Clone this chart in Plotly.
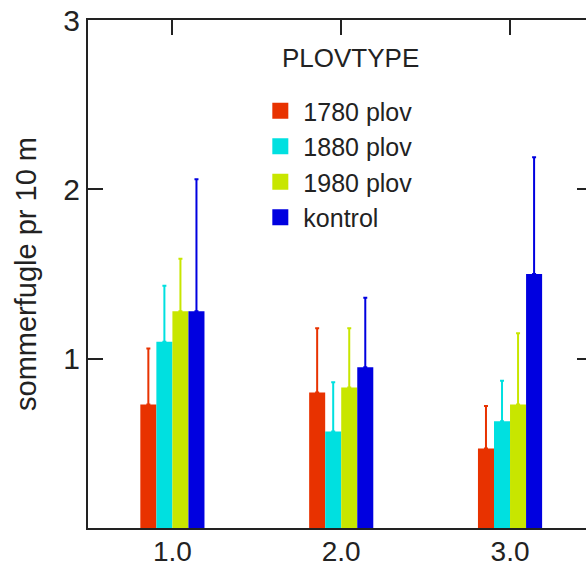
import plotly.graph_objects as go

categories = [1.0, 2.0, 3.0]
tick_labels = ["1.0", "2.0", "3.0"]
series_names = ["1780 plov", "1880 plov", "1980 plov", "kontrol"]
colors = ["#E83200", "#00E0E0", "#C8E600", "#0000E0"]
legend_title = "PLOVTYPE"

plov1780 = [0.73, 0.80, 0.47]
plov1880 = [1.10, 0.57, 0.63]
plov1980 = [1.28, 0.83, 0.73]
kontrol = [1.28, 0.95, 1.50]

err1780 = [0.33, 0.38, 0.25]
err1880 = [0.33, 0.29, 0.24]
err1980 = [0.31, 0.35, 0.42]
errkontrol = [0.78, 0.41, 0.69]

values = [plov1780, plov1880, plov1980, kontrol]
errors = [err1780, err1880, err1980, errkontrol]

font_family = "Liberation Sans, Arial, sans-serif"
axis_color = "#222222"

fig = go.Figure()
for name, vals, errs, col in zip(series_names, values, errors, colors):
    fig.add_trace(go.Bar(
        x=categories, y=vals, name=name, marker=dict(color=col, line=dict(width=0)),
        showlegend=False,
        error_y=dict(type="data", symmetric=False, array=errs,
                     arrayminus=[0] * len(errs), color=col, thickness=2, width=2),
    ))
# legend entries with larger square swatches
for name, col in zip(series_names, colors):
    fig.add_trace(go.Scatter(
        x=[None], y=[None], mode="markers", name=name,
        marker=dict(symbol="square", size=17, color=col),
    ))
# empty trace to create top axis
fig.add_trace(go.Scatter(x=[None], y=[None], xaxis="x2", yaxis="y2",
                         showlegend=False, hoverinfo="skip"))

fig.update_layout(
    width=586, height=570,
    margin=dict(l=88, r=0, t=20, b=42),
    paper_bgcolor="white", plot_bgcolor="white",
    font=dict(family=font_family, color=axis_color, size=26),
    barmode="group", bargap=0.62, bargroupgap=0,
    showlegend=True,
    legend=dict(
        x=0.34, xanchor="left", y=0.866, yanchor="top",
        font=dict(size=25), bgcolor="rgba(0,0,0,0)",
        itemwidth=36, tracegroupgap=0,
    ),
    annotations=[dict(
        text=legend_title, xref="paper", yref="paper", x=0.527, y=0.926,
        xanchor="center", yanchor="middle", showarrow=False,
        font=dict(size=26, color=axis_color),
    )],
    xaxis=dict(
        range=[0.5, 3.45], tickvals=categories, ticktext=tick_labels,
        ticks="", showline=True, linecolor=axis_color, linewidth=2,
        showgrid=False, zeroline=False, tickfont=dict(size=28),
        ticklabelstandoff=-3, automargin=False,
    ),
    xaxis2=dict(
        range=[0.5, 3.45], overlaying="x", side="top", anchor="y",
        tickvals=categories, ticks="inside", ticklen=15, tickwidth=2,
        tickcolor=axis_color, showticklabels=False, showline=True,
        linecolor=axis_color, linewidth=2, showgrid=False, zeroline=False,
        automargin=False,
    ),
    yaxis=dict(
        range=[0, 3], tickvals=[1, 2, 3], ticktext=["1", "2", "3"],
        ticks="inside", ticklen=15, tickwidth=2, tickcolor=axis_color,
        showline=True, linecolor=axis_color, linewidth=2,
        showgrid=False, zeroline=False, tickfont=dict(size=30),
        title=dict(text="sommerfugle pr 10 m", font=dict(size=29), standoff=18),
        automargin=False,
    ),
    yaxis2=dict(
        range=[0, 3], overlaying="y", side="right", anchor="x",
        tickvals=[1, 2], ticks="inside", ticklen=9, tickwidth=2,
        tickcolor=axis_color, showticklabels=False, showline=False,
        showgrid=False, zeroline=False, automargin=False,
    ),
)

fig.write_html("out.html")
